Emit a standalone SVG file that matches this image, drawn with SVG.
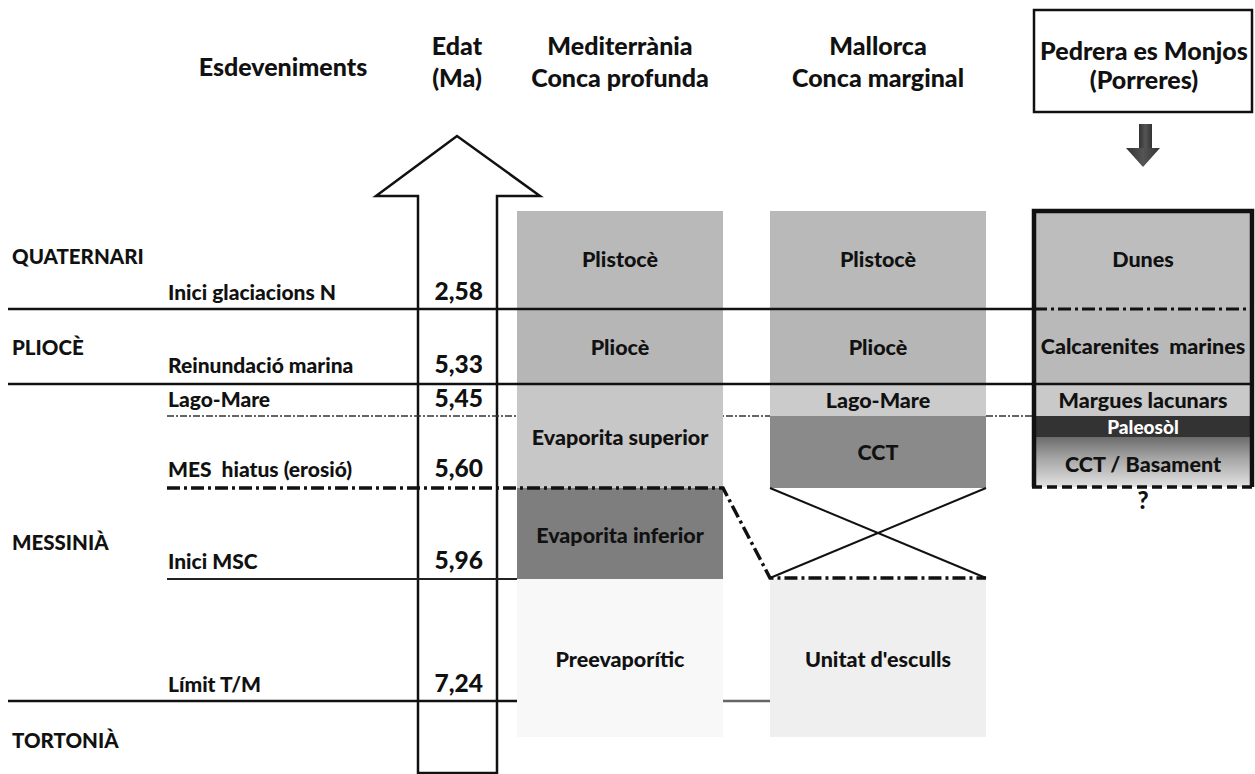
<svg xmlns="http://www.w3.org/2000/svg" width="1255" height="774" viewBox="0 0 1255 774">
<defs>
<style>
text{font-family:Lato,"Open Sans","Liberation Sans",sans-serif;font-weight:900;fill:#111;}
.hd{font-size:25px;text-anchor:middle;}
.lab{font-size:21px;}
.per{font-size:20.5px;}
.age{font-size:24.5px;text-anchor:end;}
.cl{font-size:21.5px;text-anchor:middle;}
.ln{stroke:#111;stroke-width:2.5;fill:none;}
.thin{stroke:#222;stroke-width:1.8;fill:none;}
.dd{stroke:#111;stroke-width:3.5;fill:none;stroke-dasharray:13 4 3 4;}
.dot{stroke:#333;stroke-width:1.6;fill:none;stroke-dasharray:7 2 2 2;}
</style>
<linearGradient id="gBas" x1="0" y1="0" x2="0" y2="1">
<stop offset="0" stop-color="#6c6c6c"/>
<stop offset="0.45" stop-color="#a8a8a8"/>
<stop offset="1" stop-color="#e2e2e2"/>
</linearGradient>
<linearGradient id="gArr" x1="0" y1="0" x2="1" y2="0">
<stop offset="0" stop-color="#333"/>
<stop offset="0.5" stop-color="#555"/>
<stop offset="1" stop-color="#333"/>
</linearGradient>
</defs>

<g id="headers">
<text class="hd" x="283" y="76">Esdeveniments</text>
<text class="hd" x="457" y="55">Edat</text>
<text class="hd" x="457" y="87">(Ma)</text>
<text class="hd" x="620" y="55">Mediterrània</text>
<text class="hd" x="620" y="87">Conca profunda</text>
<text class="hd" x="878" y="55">Mallorca</text>
<text class="hd" x="878" y="87">Conca marginal</text>
</g>

<g id="pedrera-header">
<rect x="1034" y="10" width="218" height="102" fill="#fff" stroke="#111" stroke-width="2.5"/>
<text class="hd" x="1144" y="60">Pedrera es Monjos</text>
<text class="hd" x="1144" y="89">(Porreres)</text>
<rect x="1139" y="124" width="13" height="25" fill="url(#gArr)"/>
<polygon points="1126,148 1160,148 1143,167" fill="url(#gArr)"/>
</g>

<g id="age-arrow">
<polygon points="418,773 418,196 376,196 457,136 540,196 497,196 497,773" fill="none" stroke="#111" stroke-width="2.5" stroke-linejoin="miter"/>
</g>

<g id="connectors">
<line class="dot" x1="167" y1="416" x2="1034" y2="416"/>
<line class="thin" x1="167" y1="579" x2="517" y2="579"/>
<line class="ln" x1="8" y1="701" x2="517" y2="701"/>
<line x1="723" y1="701" x2="770" y2="701" stroke="#666" stroke-width="2.5"/>
</g>

<g id="col-mediterrania">
<rect x="517" y="211" width="206" height="98" fill="#b9b9b9"/>
<rect x="517" y="309" width="206" height="75" fill="#b6b6b6"/>
<rect x="517" y="384" width="206" height="104" fill="#c7c7c7"/>
<rect x="517" y="488" width="206" height="91" fill="#7e7e7e"/>
<rect x="517" y="579" width="206" height="158" fill="#f8f8f8"/>
<text class="cl" x="620" y="267">Plistocè</text>
<text class="cl" x="620" y="355">Pliocè</text>
<text class="cl" x="620" y="445">Evaporita superior</text>
<text class="cl" x="620" y="543">Evaporita inferior</text>
<text class="cl" x="620" y="667">Preevaporític</text>
</g>

<g id="col-mallorca">
<rect x="770" y="211" width="216" height="98" fill="#b9b9b9"/>
<rect x="770" y="309" width="216" height="75" fill="#b6b6b6"/>
<rect x="770" y="384" width="216" height="32" fill="#cbcbcb"/>
<rect x="770" y="416" width="216" height="72" fill="#8a8a8a"/>
<rect x="770" y="579" width="216" height="158" fill="#efefef"/>
<line x1="770" y1="488" x2="986" y2="578" stroke="#111" stroke-width="2"/>
<line x1="986" y1="488" x2="770" y2="578" stroke="#111" stroke-width="2"/>
<text class="cl" x="878" y="267">Plistocè</text>
<text class="cl" x="878" y="355">Pliocè</text>
<text class="cl" x="878" y="408">Lago-Mare</text>
<text class="cl" x="878" y="460">CCT</text>
<text class="cl" x="878" y="667">Unitat d'esculls</text>
</g>

<g id="col-pedrera">
<rect x="1034" y="211" width="218" height="98" fill="#bdbdbd"/>
<rect x="1034" y="309" width="218" height="75" fill="#b9b9b9"/>
<rect x="1034" y="384" width="218" height="32" fill="#c9c9c9"/>
<rect x="1034" y="416" width="218" height="21" fill="#333"/>
<rect x="1034" y="437" width="218" height="50" fill="url(#gBas)"/>
<line x1="1034" y1="309" x2="1252" y2="309" stroke="#111" stroke-width="2.8" stroke-dasharray="13 4 3 4"/>
<polyline points="1034,487 1034,211 1252,211 1252,487" fill="none" stroke="#111" stroke-width="4.5"/>
<line x1="1032" y1="487" x2="1254" y2="487" stroke="#111" stroke-width="3.5" stroke-dasharray="10 5"/>
<text class="cl" x="1143" y="267">Dunes</text>
<text class="cl" x="1143" y="354" xml:space="preserve">Calcarenites  marines</text>
<text class="cl" x="1143" y="408">Margues lacunars</text>
<text class="cl" x="1143" y="434" style="fill:#fff;font-size:19px">Paleosòl</text>
<text class="cl" x="1143" y="472">CCT / Basament</text>
<text class="cl" x="1143" y="509" style="font-size:24px">?</text>
</g>

<g id="boundaries">
<line class="ln" x1="8" y1="309" x2="1034" y2="309"/>
<line class="ln" x1="8" y1="384" x2="1252" y2="384"/>
<polyline class="dd" points="167,488 723,488 770,578 986,578"/>
</g>

<g id="periods">
<text class="per" x="12" y="264">QUATERNARI</text>
<text class="per" x="12" y="355">PLIOCÈ</text>
<text class="per" x="12" y="550">MESSINIÀ</text>
<text class="per" x="12" y="748">TORTONIÀ</text>
</g>

<g id="events">
<text class="lab" x="168" y="300">Inici glaciacions N</text>
<text class="lab" x="168" y="373">Reinundació marina</text>
<text class="lab" x="168" y="407">Lago-Mare</text>
<text class="lab" x="168" y="477" xml:space="preserve">MES  hiatus (erosió)</text>
<text class="lab" x="168" y="569">Inici MSC</text>
<text class="lab" x="168" y="692">Límit T/M</text>
</g>

<g id="ages">
<text class="age" x="483" y="300">2,58</text>
<text class="age" x="483" y="373">5,33</text>
<text class="age" x="483" y="407">5,45</text>
<text class="age" x="483" y="477">5,60</text>
<text class="age" x="483" y="569">5,96</text>
<text class="age" x="483" y="692">7,24</text>
</g>
</svg>
